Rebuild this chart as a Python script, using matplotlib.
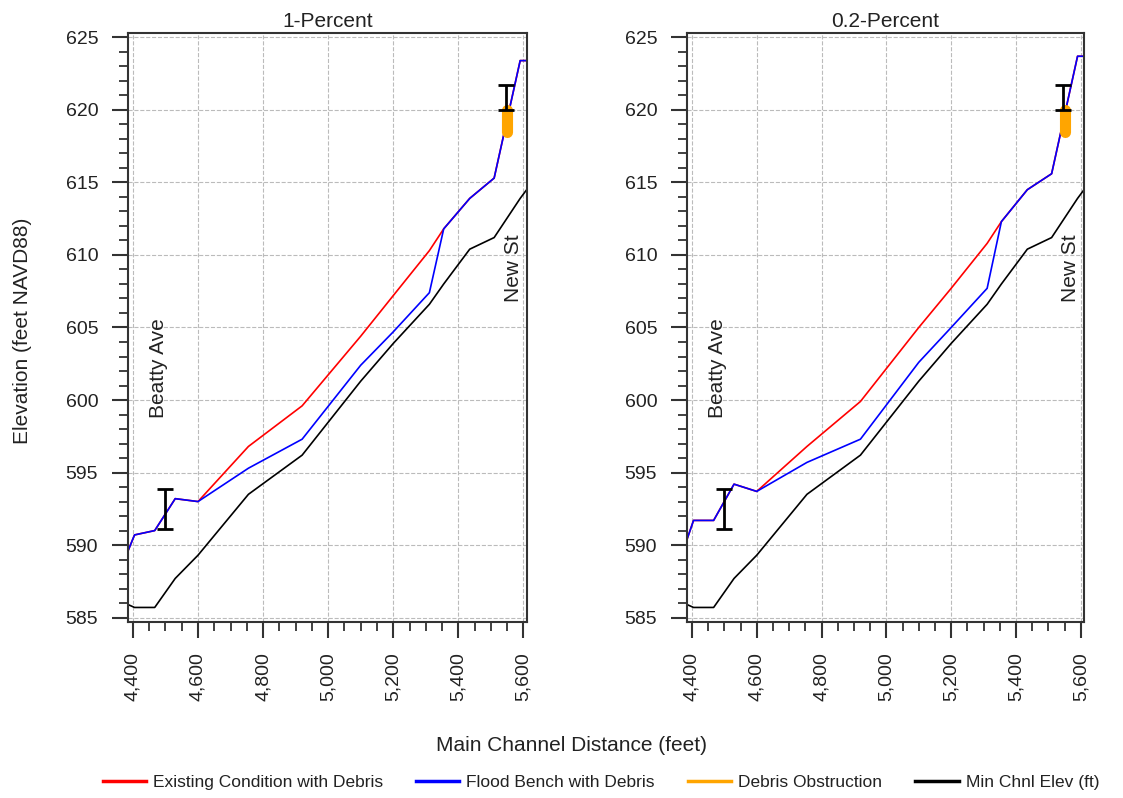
import matplotlib
matplotlib.use('Agg')
from matplotlib import pyplot as plt
from matplotlib.lines import Line2D
from matplotlib.ticker import MultipleLocator, FuncFormatter

plt.rcParams['font.family'] = ['Liberation Sans', 'DejaVu Sans']

# river stations (feet)
dist = [4385, 4405, 4467, 4530, 4600, 4755, 4920, 5100, 5200, 5311, 5355, 5435, 5510, 5590, 5610]

# 1-Percent water surface
red_1 = [589.6, 590.7, 591.0, 593.2, 593.0, 596.8, 599.6, 604.4, 607.2, 610.3, 611.8, 613.9, 615.3, 623.4, 623.4]
blue_1 = [589.6, 590.7, 591.0, 593.2, 593.0, 595.3, 597.3, 602.4, 604.7, 607.4, 611.8, 613.9, 615.3, 623.4, 623.4]

# 0.2-Percent water surface
red_2 = [590.4, 591.7, 591.7, 594.2, 593.7, 596.8, 599.9, 605.0, 607.7, 610.8, 612.3, 614.5, 615.6, 623.7, 623.7]
blue_2 = [590.4, 591.7, 591.7, 594.2, 593.7, 595.7, 597.3, 602.6, 605.0, 607.7, 612.3, 614.5, 615.6, 623.7, 623.7]

# channel invert
min_chnl = [585.9, 585.7, 585.7, 587.7, 589.3, 593.5, 596.2, 601.3, 603.9, 606.6, 608.0, 610.4, 611.2, 613.9, 614.5]

# debris obstruction and bridge decks
debris_x = 5550
debris_y = [618.5, 620.0]
bridge_x = [4500, 5545]
bridge_lo = [591.1, 620.0]
bridge_hi = [593.9, 621.7]
bridge_names = ['Beatty Ave', 'New St']
label_x = [4478, 5568]
label_y = [602.2, 609.1]

panels = [('1-Percent', red_1, blue_1), ('0.2-Percent', red_2, blue_2)]

fig = plt.figure(figsize=(11.23, 7.98), dpi=100)
positions = [[0.114, 0.2206, 0.355, 0.738], [0.6118, 0.2206, 0.3535, 0.738]]

for pos, (title, red, blue) in zip(positions, panels):
    ax = fig.add_axes(pos)
    ax.plot(dist, red, color='#ff0000', lw=1.2)
    ax.plot(dist, blue, color='#0000ff', lw=1.2)
    ax.plot(dist, min_chnl, color='black', lw=1.2)
    ax.plot([debris_x, debris_x], debris_y, color='#ffa500', lw=8, solid_capstyle='round')
    for x, lo, hi in zip(bridge_x, bridge_lo, bridge_hi):
        mid = (lo + hi) / 2
        ax.errorbar([x], [mid], yerr=[[mid - lo], [hi - mid]], fmt='none', ecolor='black',
                    elinewidth=2, capsize=5.5, capthick=2)
    for name, x, y in zip(bridge_names, label_x, label_y):
        ax.text(x, y, name, rotation=90, ha='center', va='center', fontsize=15, color='#222222')

    ax.set_xlim(4385, 5610)
    ax.set_ylim(584.7, 625.3)
    ax.xaxis.set_major_locator(MultipleLocator(200))
    ax.xaxis.set_minor_locator(MultipleLocator(50))
    ax.yaxis.set_major_locator(MultipleLocator(5))
    ax.yaxis.set_minor_locator(MultipleLocator(1))
    ax.xaxis.set_major_formatter(FuncFormatter(lambda v, p: f'{v:,.0f}'))
    ax.tick_params(axis='both', which='major', direction='out', length=11.5, width=1.5,
                   labelsize=14, pad=10, color='#333333', labelcolor='#222222')
    ax.tick_params(axis='both', which='minor', direction='out', length=6.5, width=1.3, color='#333333')
    ax.tick_params(axis='x', labelrotation=90)
    ax.grid(True, which='major', color='#bbbbbb', linestyle='--', lw=0.8)
    for sp in ax.spines.values():
        sp.set_linewidth(1.5)
        sp.set_color('#333333')
    ax.set_title(title, fontsize=15, pad=4, color='#222222')

fig.text(0.02, 0.586, 'Elevation (feet NAVD88)', rotation=90, ha='center', va='center',
         fontsize=15, color='#222222')
fig.text(0.509, 0.066, 'Main Channel Distance (feet)', ha='center', va='center',
         fontsize=15, color='#222222')

handles = [Line2D([], [], color='#ff0000', lw=2.5),
           Line2D([], [], color='#0000ff', lw=2.5),
           Line2D([], [], color='#ffa500', lw=2.5),
           Line2D([], [], color='black', lw=2.5)]
labels = ['Existing Condition with Debris', 'Flood Bench with Debris', 'Debris Obstruction', 'Min Chnl Elev (ft)']
fig.legend(handles, labels, loc='center', bbox_to_anchor=(0.535, 0.019), ncol=4, frameon=False,
           fontsize=12.5, handlelength=2.5, columnspacing=1.9, handletextpad=0.4, labelcolor='#222222')

fig.savefig('out.png', dpi=100)
